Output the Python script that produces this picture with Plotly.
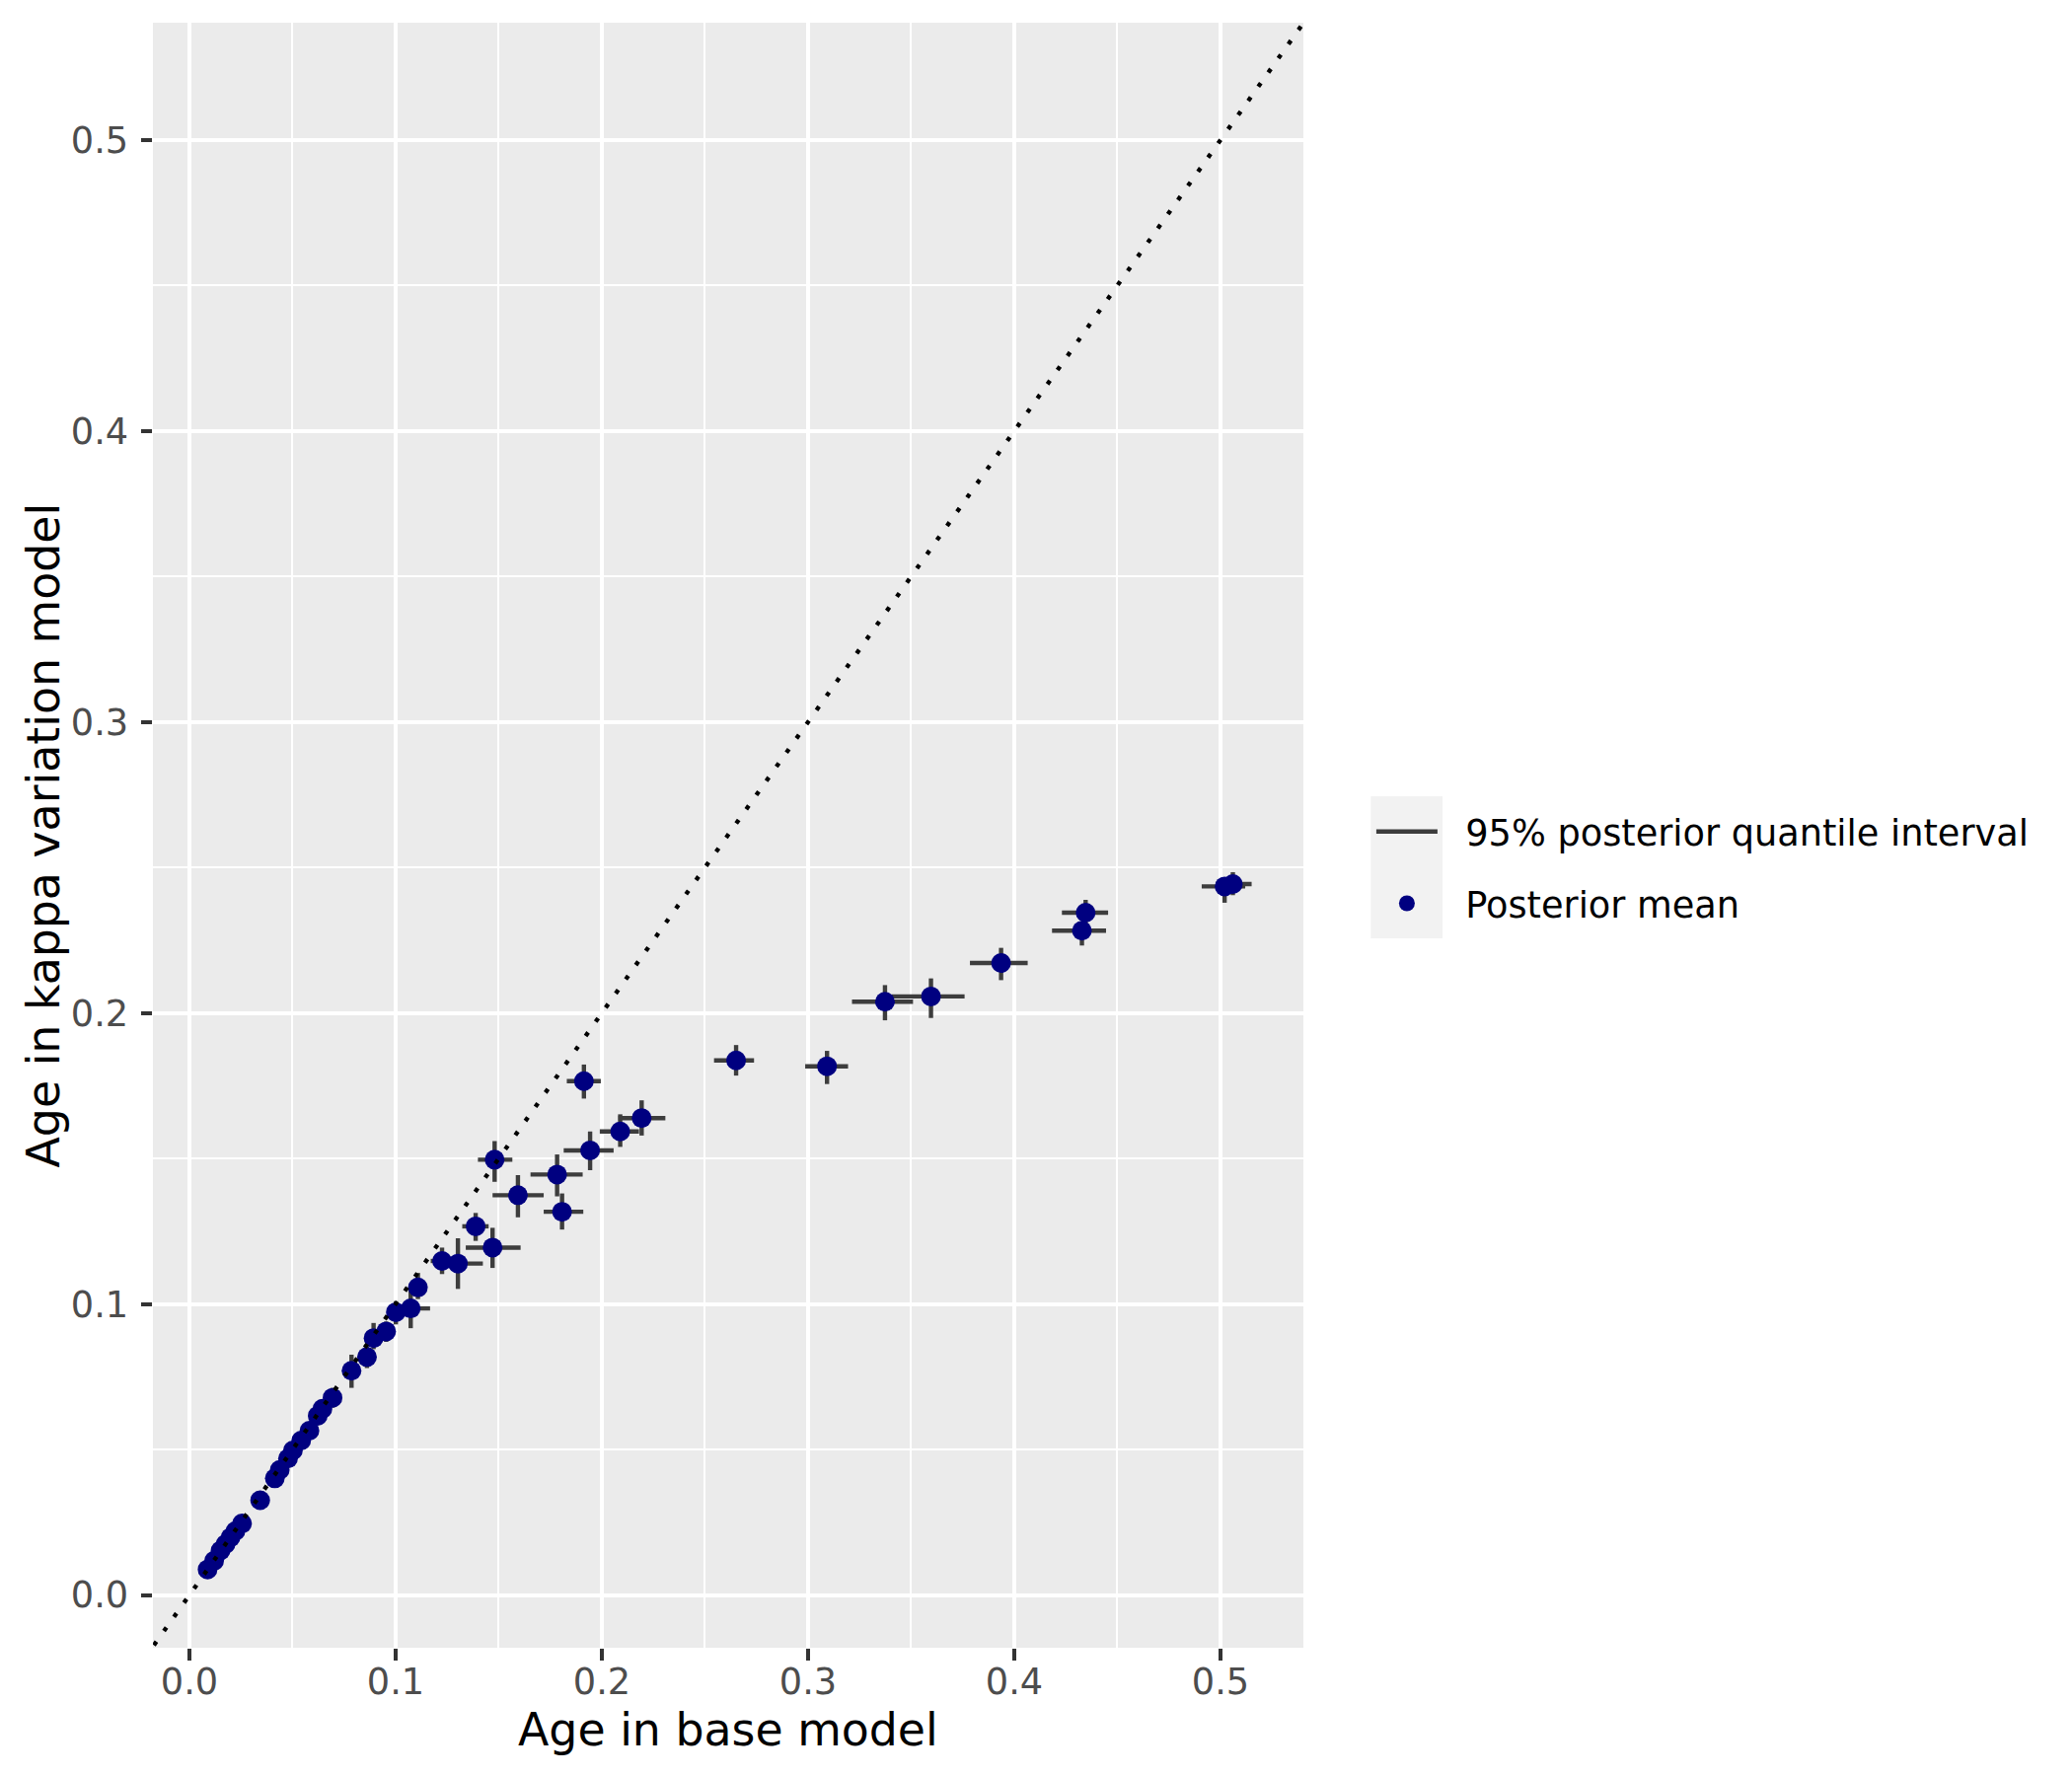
import plotly.graph_objects as go

# posterior means (base model on x, kappa variation model on y)
age_base = [0.0088, 0.0120, 0.0151, 0.0175, 0.0199, 0.0223, 0.0255, 0.0343,
            0.0414, 0.0438, 0.0478, 0.0502, 0.0542, 0.0582, 0.0622, 0.0645,
            0.0694, 0.0786, 0.0861, 0.0893, 0.0954, 0.1001, 0.1073, 0.1108,
            0.1225, 0.1302, 0.1388, 0.1470, 0.1480, 0.1593, 0.1783, 0.1807,
            0.1913, 0.1943, 0.2089, 0.2193, 0.2651, 0.3092, 0.3373, 0.3596,
            0.3936, 0.4328, 0.4346, 0.5020, 0.5060]
age_kappa = [0.0088, 0.0118, 0.0153, 0.0175, 0.0198, 0.0220, 0.0246, 0.0326,
             0.0401, 0.0430, 0.0469, 0.0497, 0.0531, 0.0565, 0.0616, 0.0640,
             0.0678, 0.0771, 0.0818, 0.0883, 0.0906, 0.0972, 0.0985, 0.1057,
             0.1148, 0.1139, 0.1267, 0.1194, 0.1496, 0.1374, 0.1445, 0.1317,
             0.1766, 0.1528, 0.1593, 0.1639, 0.1837, 0.1817, 0.2039, 0.2057,
             0.2172, 0.2283, 0.2345, 0.2435, 0.2443]

# 95% posterior quantile intervals
base_lo = [0.0082, 0.0112, 0.0142, 0.0166, 0.0189, 0.0212, 0.0243, 0.0328,
           0.0396, 0.0419, 0.0457, 0.0480, 0.0518, 0.0556, 0.0594, 0.0615,
           0.0662, 0.0755, 0.0830, 0.0850, 0.0910, 0.0960, 0.0997, 0.1065,
           0.1170, 0.1204, 0.1323, 0.1340, 0.1399, 0.1470, 0.1654, 0.1718,
           0.1830, 0.1815, 0.1990, 0.2080, 0.2544, 0.2986, 0.3213, 0.3405,
           0.3785, 0.4183, 0.4231, 0.4909, 0.4976]
base_hi = [0.0095, 0.0128, 0.0160, 0.0185, 0.0210, 0.0234, 0.0267, 0.0358,
           0.0432, 0.0457, 0.0499, 0.0524, 0.0566, 0.0608, 0.0650, 0.0675,
           0.0726, 0.0815, 0.0890, 0.0930, 0.0990, 0.1040, 0.1167, 0.1150,
           0.1290, 0.1423, 0.1451, 0.1606, 0.1566, 0.1718, 0.1907, 0.1910,
           0.1995, 0.2057, 0.2180, 0.2308, 0.2738, 0.3194, 0.3509, 0.3759,
           0.4065, 0.4445, 0.4455, 0.5120, 0.5151]
kappa_lo = [0.0081, 0.0110, 0.0144, 0.0165, 0.0187, 0.0208, 0.0233, 0.0310,
            0.0383, 0.0410, 0.0447, 0.0474, 0.0505, 0.0537, 0.0585, 0.0607,
            0.0644, 0.0712, 0.0780, 0.0845, 0.0870, 0.0930, 0.0917, 0.1017,
            0.1103, 0.1052, 0.1217, 0.1124, 0.1420, 0.1298, 0.1370, 0.1256,
            0.1706, 0.1460, 0.1540, 0.1579, 0.1785, 0.1756, 0.1975, 0.1983,
            0.2113, 0.2232, 0.2305, 0.2379, 0.2405]
kappa_hi = [0.0095, 0.0127, 0.0162, 0.0186, 0.0209, 0.0232, 0.0259, 0.0341,
            0.0419, 0.0450, 0.0491, 0.0520, 0.0557, 0.0593, 0.0647, 0.0673,
            0.0712, 0.0826, 0.0855, 0.0935, 0.0940, 0.1010, 0.1048, 0.1107,
            0.1194, 0.1226, 0.1313, 0.1262, 0.1560, 0.1443, 0.1514, 0.1380,
            0.1823, 0.1593, 0.1652, 0.1700, 0.1890, 0.1870, 0.2096, 0.2119,
            0.2224, 0.2311, 0.2389, 0.2454, 0.2484]

x_range = [-0.0177, 0.5402]
y_range = [-0.0181, 0.5403]
tick_vals = [0.0, 0.1, 0.2, 0.3, 0.4, 0.5]

# interval segments, horizontal then vertical, broken with None
seg_x, seg_y = [], []
for i in range(len(age_base)):
    seg_x += [base_lo[i], base_hi[i], None, age_base[i], age_base[i], None]
    seg_y += [age_kappa[i], age_kappa[i], None, kappa_lo[i], kappa_hi[i], None]

pad = '\u00a0\u00a0'  # push legend text away from the key

intervals = go.Scatter(
    x=seg_x, y=seg_y, mode='lines',
    line=dict(color='#3d3d3d', width=4.4),
    name=pad + '95% posterior quantile interval',
    legendgroup='a', connectgaps=False)

means = go.Scatter(
    x=age_base, y=age_kappa, mode='markers',
    marker=dict(color='#000080', size=20, line=dict(width=0)),
    name=pad + 'Posterior mean', legendgroup='b')

identity = go.Scatter(
    x=[-0.1, 0.7], y=[-0.1, 0.7], mode='lines',
    line=dict(color='black', width=4.4, dash='4.4px,13.2px'),
    showlegend=False, hoverinfo='skip')

axis_common = dict(
    tickvals=tick_vals, tickformat='.1f',
    showgrid=True, gridcolor='white', gridwidth=4.4,
    zeroline=False, showline=False,
    ticks='outside', ticklen=11.5, tickwidth=4, tickcolor='#333333',
    tickfont=dict(family='DejaVu Sans', size=36.7, color='#4D4D4D'),
    minor=dict(dtick=0.05, tick0=0, showgrid=True, gridcolor='white',
               gridwidth=2.2, ticks=''),
    automargin=False)

title_font = dict(family='DejaVu Sans', size=45.8, color='black')

layout = go.Layout(
    width=2084, height=1784,
    margin=dict(l=147, r=771, t=15, b=122),
    paper_bgcolor='white', plot_bgcolor='#EBEBEB',
    xaxis=dict(range=x_range, ticklabelstandoff=-10, **axis_common),
    yaxis=dict(range=y_range, ticklabelstandoff=5, **axis_common),
    annotations=[
        dict(text='Age in base model', xref='paper', yref='paper',
             x=0.5, y=-0.0504, xanchor='center', yanchor='middle',
             showarrow=False, font=title_font),
        dict(text='Age in kappa variation model', xref='paper', yref='paper',
             x=-0.0952, y=0.5, xanchor='center', yanchor='middle',
             textangle=-90, showarrow=False, font=title_font)],
    legend=dict(x=1.0591, y=0.48, xanchor='left', yanchor='middle',
                bgcolor='rgba(0,0,0,0)', tracegroupgap=22, itemwidth=62,
                font=dict(family='DejaVu Sans', size=36.7, color='black')),
    shapes=[dict(type='rect', xref='paper', yref='paper',
                 x0=1.0586, x1=1.1209, y0=0.4366, y1=0.524,
                 fillcolor='#F2F2F2', line=dict(width=0), layer='below')],
    showlegend=True)

fig = go.Figure(data=[intervals, means, identity], layout=layout)
fig.write_html("out.html")
